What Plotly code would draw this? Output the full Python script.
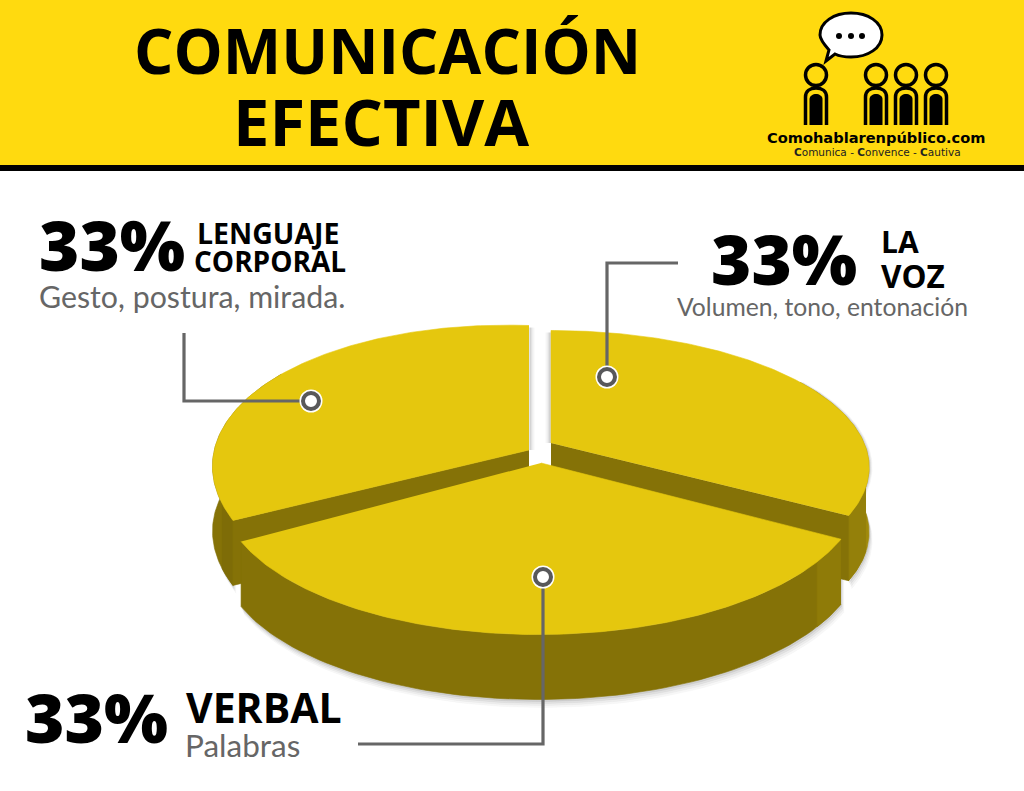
import numpy as np
import plotly.graph_objects as go

# ---------- data ----------
categories = ["VERBAL", "LENGUAJE CORPORAL", "LA VOZ"]
shares = [33, 33, 33]
pct_labels = ["33%", "33%", "33%"]
sublabels = ["Palabras", "Gesto, postura, mirada.", "Volumen, tono, entonación"]

# ---------- style / projection ----------
YELLOW = "#FFDA0F"
TOP = "#E5C70E"
WALL = "#857207"
GREY = "#666666"
K, RX, RY, DEPTH = 0.178, 313, 141, 65
START = 30.0
APEX = {"VERBAL": (541, 463), "LENGUAJE CORPORAL": (529, 450), "LA VOZ": (551, 443)}
# per-slice fine tuning of the projected ellipse: (x scale, y scale, shear)
TUNE = {"VERBAL": (1.008, 1.0, -0.004), "LENGUAJE CORPORAL": (0.995, 1.04, 0.034), "LA VOZ": (1.0, 0.94, 0.0)}
W, H = 1024, 791


def proj(deg, n, r=1.0):
    c = APEX[n]
    sx, sy, sh = TUNE[n]
    t = np.radians(np.asarray(deg, float))
    s = r * np.sin(t)
    w = 1 - K * s
    dx = sx * RX * r * np.cos(t) / w
    return c[0] + dx, c[1] + sy * RY * s / w + sh * dx


fig = go.Figure()


def poly(x, y, color, name=None):
    fig.add_trace(go.Scatter(x=list(x), y=list(y), mode="lines", fill="toself", fillcolor=color,
                             line=dict(width=0.6, color=color), hoverinfo="text" if name else "skip",
                             text=name, showlegend=False))


def wall(a0, a1, n, color):
    ang = np.linspace(a0, a1, 80)
    x, y = proj(ang, n)
    poly(np.r_[x, x[::-1]], np.r_[y, (y + DEPTH)[::-1]], color, n)


def cut(a, n, color):
    c = APEX[n]
    x, y = proj(a, n)
    poly([c[0], x, x, c[0]], [c[1], y, y + DEPTH, c[1] + DEPTH], color, n)


def top(a0, a1, n):
    c = APEX[n]
    ang = np.linspace(a0, a1, 160)
    x, y = proj(ang, n)
    poly(np.r_[c[0], x], np.r_[c[1], y], TOP, n)


sweeps = np.array(shares, float) / sum(shares) * 360
starts = START + np.r_[0, np.cumsum(sweeps)[:-1]]
ranges = {n: (a, a + s) for n, a, s in zip(categories, starts, sweeps)}

# soft shadow below the pie
for dy, al in [(8, 0.03), (6, 0.04), (4, 0.05), (2, 0.07)]:
    for n, (a0, a1) in [("LA VOZ", (ranges["LA VOZ"][1] - 60, ranges["LA VOZ"][1])),
                        ("VERBAL", ranges["VERBAL"]),
                        ("LENGUAJE CORPORAL", (ranges["LENGUAJE CORPORAL"][0], ranges["LENGUAJE CORPORAL"][0] + 40))]:
        ang = np.linspace(a0, a1, 80)
        x, y = proj(ang, n)
        xo = x + dy * 0.4
        poly(np.r_[xo, xo[::-1]], np.r_[y, (y + DEPTH + dy)[::-1]], f"rgba(0,0,0,{al})")

# back slices: walls, then cut faces, then tops
for n in ["LENGUAJE CORPORAL", "LA VOZ"]:
    a0, a1 = ranges[n]
    if n == "LA VOZ":
        wall(a1 - 60, a1, n, "#A08A0B")
        wall(a1 - 12, a1, n, "#94800A")
        cut(a1, n, WALL)
    else:
        wall(a0, a0 + 60, n, WALL)
        wall(a0, a0 + 6, n, "#7E6C07")
        cut(a0, n, WALL)
    top(a0, a1, n)

# shadows inside the gap
for i, al in [(1, 0.22), (2, 0.14), (3, 0.09), (4, 0.05), (5, 0.03)]:
    for n, sgn, a in [("LENGUAJE CORPORAL", 1, ranges["LENGUAJE CORPORAL"][1]), ("LA VOZ", -1, ranges["LA VOZ"][0])]:
        c = APEX[n]
        x, y = proj(a, n)
        fig.add_trace(go.Scatter(x=[c[0] + sgn * i, x + sgn * i], y=[c[1], y + 2], mode="lines",
                                 line=dict(width=1, color=f"rgba(0,0,0,{al})"), hoverinfo="skip", showlegend=False))

# front slice
n = "VERBAL"
a0, a1 = ranges[n]
wall(a0, a1, n, WALL)
wall(a0, a0 + 9, n, "#8F7B08")
top(a0, a1, n)

# ---------- callouts ----------
leaders = {
    "LENGUAJE CORPORAL": ([184, 184, 300], [333, 401, 401], (311, 401)),
    "LA VOZ": ([678, 607, 607], [263, 263, 367], (607, 377)),
    "VERBAL": ([358, 543, 543], [744, 744, 587], (543, 577)),
}
for n, (lx, ly, (mx, my)) in leaders.items():
    fig.add_trace(go.Scatter(x=lx, y=ly, mode="lines", line=dict(color=GREY, width=3.2), hoverinfo="skip",
                             showlegend=False))
    fig.add_trace(go.Scatter(x=[mx], y=[my], mode="markers", hoverinfo="skip", showlegend=False,
                             marker=dict(size=23, color="white")))
    fig.add_trace(go.Scatter(x=[mx], y=[my], mode="markers", hoverinfo="skip", showlegend=False,
                             marker=dict(size=16, color="white", line=dict(color="#58585A", width=4))))

# ---------- header + logo ----------
shapes = [
    dict(type="rect", x0=0, x1=W, y0=0, y1=165, fillcolor=YELLOW, line_width=0, layer="below"),
    dict(type="rect", x0=0, x1=W, y0=165, y1=171, fillcolor="#000000", line_width=0, layer="below"),
    dict(type="path", path="M826,61 L829,50 C822,42 820,38 820,35 C820,22 834,13 851,13 C868,13 882,22 882,35 "
                           "C882,48 868,57 851,57 C845,57 839,56 835,54 Z",
         fillcolor="white", line=dict(color="black", width=3)),
]
for dot in (839, 851, 862):
    shapes.append(dict(type="circle", x0=dot - 3, x1=dot + 3, y0=33, y1=39, fillcolor="black", line_width=0))
for px in (816, 876, 906, 936):
    shapes.append(dict(type="circle", x0=px - 10.5, x1=px + 10.5, y0=64.5, y1=85.5, fillcolor=YELLOW,
                       line=dict(color="black", width=3.5)))
    shapes.append(dict(type="path",
                       path=f"M{px-10.5},125 V97 C{px-10.5},91 {px-6},88 {px},88 C{px+6},88 {px+10.5},91 {px+10.5},97 V125",
                       line=dict(color="black", width=3.5)))
    shapes.append(dict(type="path",
                       path=f"M{px-6.5},125 V99 C{px-6.5},96 {px-3},94 {px},94 C{px+3},94 {px+6.5},96 {px+6.5},99 V125 Z",
                       fillcolor="black", line_width=0))


def note(x, y, text, size, color="#000000", weight=700, anchor="left", family="Open Sans"):
    return dict(x=x, y=y, text=text, showarrow=False, xref="x", yref="y", xanchor=anchor, yanchor="middle",
                borderpad=0, font=dict(family=family, size=size, color=color, weight=weight))


annotations = [
    note(387, 50, "COMUNICACIÓN", 62, anchor="center"),
    note(381, 121, "EFECTIVA", 65, anchor="center"),
    note(876, 137, "Comohablarenpúblico.com", 14.6, anchor="center", family="DejaVu Sans"),
    note(877, 152, "<b>C</b>omunica - <b>C</b>onvence - <b>C</b>autiva", 10.5, weight=400, anchor="center",
         color="#222222", family="DejaVu Sans"),
    # lenguaje corporal
    note(38, 244, pct_labels[1], 69, weight=800),
    note(196, 233, "LENGUAJE", 28.5),
    note(193, 261, "CORPORAL", 28),
    note(38, 296, sublabels[1], 30.3, color=GREY, weight=400, family="Lato"),
    # la voz
    note(710, 258, pct_labels[2], 69, weight=800),
    note(880, 241, "LA", 30),
    note(880, 275, "VOZ", 31.5),
    note(676, 306, sublabels[2], 24.7, color=GREY, weight=400, family="Lato"),
    # verbal
    note(24, 717, pct_labels[0], 67.5, weight=800),
    note(185, 707, "VERBAL", 41),
    note(184, 745, sublabels[0], 31.5, color=GREY, weight=400, family="Lato"),
]

fig.update_layout(
    width=W, height=H, margin=dict(l=0, r=0, t=0, b=0), autosize=False,
    paper_bgcolor="white", plot_bgcolor="white", showlegend=False,
    xaxis=dict(range=[0, W], visible=False, fixedrange=True),
    yaxis=dict(range=[H, 0], visible=False, fixedrange=True),
    shapes=shapes, annotations=annotations,
)
fig.write_html("out.html", config={"displayModeBar": False},
               post_script="document.body.style.margin='0';document.body.style.overflow='hidden';")
